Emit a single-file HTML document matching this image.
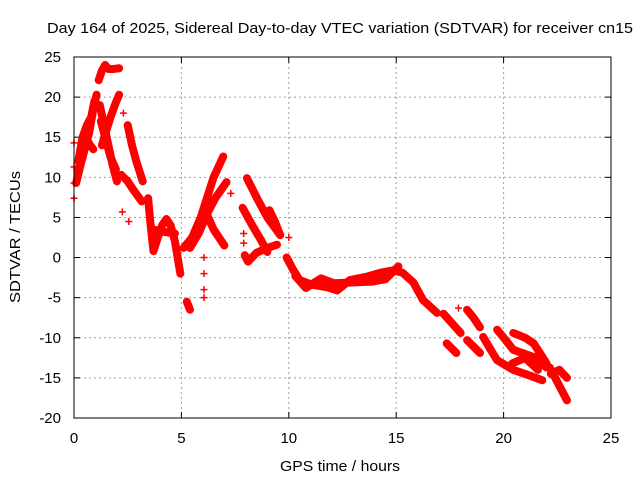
<!DOCTYPE html>
<html><head><meta charset="utf-8"><style>
body{margin:0;background:#fff;}
svg{display:block;font-family:"Liberation Sans",sans-serif;}
</style></head><body>
<svg id="chart" width="640" height="480" viewBox="0 0 640 480">
<rect width="640" height="480" fill="#fff"/>
<text x="340" y="33" font-size="15" text-anchor="middle" textLength="586" lengthAdjust="spacingAndGlyphs">Day 164 of 2025, Sidereal Day-to-day VTEC variation (SDTVAR) for receiver cn15</text>
<text x="340" y="471" font-size="15" text-anchor="middle" textLength="120" lengthAdjust="spacingAndGlyphs">GPS time / hours</text>
<text transform="translate(20,237) rotate(-90)" font-size="15" text-anchor="middle" textLength="132" lengthAdjust="spacingAndGlyphs">SDTVAR / TECUs</text>
<g id="grid"></g>
<g id="ticks"></g>
<g id="marks"></g>
<rect x="74" y="57" width="537" height="361" fill="none" stroke="#000" stroke-width="1"/>
</svg>
<script>
const xTicks=[0,5,10,15,20,25];
const yTicks=[25,20,15,10,5,0,-5,-10,-15,-20];
const tracks=[
 [[0.1,9.3],[0.3,11.5],[0.5,13.5],[0.7,15.5],[0.9,18.5],[1.05,20.3]],
 [[0.2,12],[0.4,15],[0.6,16.5],[0.8,17.5],[0.95,19.5]],
 [[0.15,10],[0.35,13],[0.55,15],[0.75,14],[0.9,13.5]],
 [[1.15,22.1],[1.3,23.3],[1.45,24],[1.6,23.5],[1.8,23.5],[2.1,23.6]],
 [[1.2,19],[1.4,16.5],[1.6,14],[1.8,11.5],[2.0,9.5]],
 [[1.25,17],[1.45,15],[1.7,12.5],[1.95,11]],
 [[1.3,14],[1.5,15.8],[1.7,17.5],[1.9,19],[2.1,20.3]],
 [[2.5,16.5],[2.7,14],[2.9,12],[3.2,9.5]],
 [[2.2,10.3],[2.5,9.5],[2.8,8.3],[3.15,7]],
 [[3.45,7.4],[3.55,4.5],[3.7,0.8],[3.9,2.5],[4.1,4],[4.3,4.8],[4.5,4],[4.7,2],[4.95,-2]],
 [[3.7,3.5],[4.2,3.2],[4.7,3]],
 [[5.25,-5.5],[5.4,-6.5]],
 [[5.1,1.2],[5.5,2.5],[5.9,5],[6.2,7.5],[6.5,10],[6.95,12.6]],
 [[5.4,1.2],[5.8,3],[6.2,5.5],[6.6,7.5],[7.1,9.4]],
 [[6.2,5.3],[6.5,3.5],[7.0,1.5]],
 [[8.05,9.9],[8.5,7.5],[9.0,5],[9.6,2.8]],
 [[7.85,6.2],[8.3,4],[8.7,2.2],[9.0,0.7]],
 [[7.95,0.3],[8.1,-0.5],[8.5,0.6],[9.0,1.2],[9.45,1.6]],
 [[9.1,5.9],[9.35,4.5],[9.6,2.8]],
 [[9.9,0],[10.2,-1.5],[10.5,-2.8],[11.1,-3.4],[11.8,-3.7],[12.25,-4.1],[12.85,-2.8],[13.6,-2.4],[14.25,-1.9],[14.85,-1.6],[15.3,-1.9],[15.8,-3.1],[16.25,-5.3],[16.9,-6.9]],
 [[10.3,-2.3],[10.8,-3.8],[11.5,-2.6],[12.1,-3.2],[13.9,-3],[14.5,-2.7],[15.1,-1.1]],
 [[17.2,-7],[17.6,-8.2],[18.0,-9.4]],
 [[18.3,-6.5],[18.6,-7.5],[18.9,-8.7]],
 [[17.35,-10.7],[17.8,-11.9]],
 [[18.3,-10.3],[18.9,-11.9]],
 [[19.05,-9.9],[19.4,-11.5],[19.7,-12.8],[20.45,-14],[21.1,-14.6],[21.8,-15.3]],
 [[19.7,-9],[20.1,-10.3],[20.45,-11.5],[21.4,-12.4],[22.0,-13.7]],
 [[20.45,-9.4],[21.0,-10],[21.4,-10.7],[22.0,-13.2]],
 [[20.4,-13.2],[21.0,-12.5],[21.6,-14]],
 [[22.15,-13.7],[22.5,-15.5],[22.95,-17.8]],
 [[22.2,-14.5],[22.6,-14],[22.95,-15]]
];
const isolated=[[0,14.3],[0,11.3],[0,9.3],[0,7.4],[2.3,18],[2.25,5.7],[2.55,4.5],[6.05,0],[6.05,-2],[6.05,-4],[6.05,-5],[7.3,8],[7.9,3],[7.9,1.8],[17.9,-6.3],[10.0,2.5]];
const X=t=>74+t*537/25;
const Y=v=>57+(25-v)*361/45;
const NS='http://www.w3.org/2000/svg';
const grid=document.getElementById('grid'),ticks=document.getElementById('ticks'),marks=document.getElementById('marks');
function mk(tag,attrs,parent){const e=document.createElementNS(NS,tag);for(const k in attrs)e.setAttribute(k,attrs[k]);parent.appendChild(e);return e;}
xTicks.forEach(t=>{
 const x=X(t);
 if(t>0&&t<25){const g=mk('line',{x1:x,y1:57,x2:x,y2:418,stroke:'#a0a0a0','stroke-dasharray':'2,3'},grid);
 
 }
 const a=mk('line',{x1:x,y1:418,x2:x,y2:412,stroke:'#000'},ticks);
 
 
 const b=mk('line',{x1:x,y1:57,x2:x,y2:63,stroke:'#000'},ticks);
 
 
 const l=mk('text',{x:x,y:443,'font-size':15,'text-anchor':'middle'},ticks);
 l.textContent=t;
 
 
});
yTicks.forEach(v=>{
 const y=Y(v);
 if(v>-20&&v<25){const g=mk('line',{x1:74,y1:y,x2:611,y2:y,stroke:'#a0a0a0','stroke-dasharray':'2,3'},grid);
 
 }
 const a=mk('line',{x1:74,y1:y,x2:80,y2:y,stroke:'#000'},ticks);
 
 
 const b=mk('line',{x1:611,y1:y,x2:605,y2:y,stroke:'#000'},ticks);
 
 
 const l=mk('text',{x:61,y:y+5,'font-size':15,'text-anchor':'end'},ticks);
 l.textContent=v;
 
 
});
function plus(t,v){
 const x=X(t),y=Y(v);
 const p=mk('path',{d:`M${x-3.5},${y}h7M${x},${y-3.5}v7`,stroke:'#f00','stroke-width':1.5},marks);
 
 
}
tracks.forEach(tr=>{
 const pl=mk('polyline',{points:tr.map(p=>X(p[0])+','+Y(p[1])).join(' '),fill:'none',stroke:'#f00','stroke-width':8,'stroke-linejoin':'round','stroke-linecap':'round'},marks);
 
 
 tr.forEach(p=>plus(p[0],p[1]));
});
isolated.forEach(p=>plus(p[0],p[1]));
</script>
</body></html>
